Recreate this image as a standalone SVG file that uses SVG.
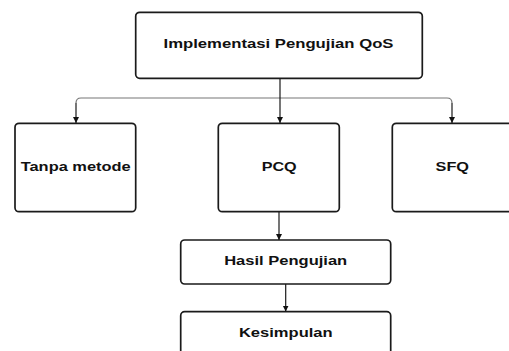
<svg xmlns="http://www.w3.org/2000/svg" width="509" height="351" viewBox="0 0 509 351">
<style>
.box{fill:#fff;stroke:#1a1a1a;stroke-width:1.7}
.lbl{font-family:"Liberation Sans",Arial,sans-serif;font-weight:bold;font-size:13.5px;fill:#111;text-anchor:middle;dominant-baseline:central}
.con{fill:none;stroke:#1a1a1a;stroke-width:1.2}
.hl{fill:none;stroke:#777;stroke-width:1.2}
</style>
<defs>
<marker id="arr" viewBox="0 0 10 10" refX="10" refY="5" markerWidth="6" markerHeight="7" markerUnits="userSpaceOnUse" orient="auto">
<path d="M0,0 L10,5 L0,10 Z" fill="#111"/>
</marker>
</defs>
<rect width="509" height="351" fill="#fff"/>
<g id="connectors">
<path class="hl" d="M280,98 H81 Q76,98 76,103"/>
<path class="hl" d="M280,98 H447 Q452,98 452,103"/>
<path class="con" d="M76,103 V123" marker-end="url(#arr)"/>
<path class="con" d="M452,103 V123" marker-end="url(#arr)"/>
<path class="con" d="M280,78.5 V123" marker-end="url(#arr)"/>
<path class="con" d="M279,212 V240" marker-end="url(#arr)"/>
<path class="con" d="M285.7,284 V311.5" marker-end="url(#arr)"/>
</g>
<g id="top">
<rect class="box" x="135.7" y="12.3" width="286.6" height="66" rx="4"/>
<text class="lbl" x="278.5" y="43.8" textLength="230" lengthAdjust="spacingAndGlyphs">Implementasi Pengujian QoS</text>
</g>
<g id="tanpa">
<rect class="box" x="15" y="123.3" width="120.7" height="88.4" rx="4"/>
<text class="lbl" x="75.7" y="166.5" textLength="110" lengthAdjust="spacingAndGlyphs">Tanpa metode</text>
</g>
<g id="pcq">
<rect class="box" x="218.3" y="123.3" width="121" height="88.4" rx="4"/>
<text class="lbl" x="279.2" y="166.5" textLength="35" lengthAdjust="spacingAndGlyphs">PCQ</text>
</g>
<g id="sfq">
<rect class="box" x="392.3" y="123.3" width="130" height="88.4" rx="4"/>
<text class="lbl" x="452.3" y="166.5" textLength="33.5" lengthAdjust="spacingAndGlyphs">SFQ</text>
</g>
<g id="hasil">
<rect class="box" x="180.7" y="240" width="210" height="44" rx="4"/>
<text class="lbl" x="285.7" y="260.8" textLength="123" lengthAdjust="spacingAndGlyphs">Hasil Pengujian</text>
</g>
<g id="kesimpulan">
<rect class="box" x="180.7" y="311.7" width="210" height="60" rx="4"/>
<text class="lbl" x="285.8" y="332.5" textLength="93.7" lengthAdjust="spacingAndGlyphs">Kesimpulan</text>
</g>
</svg>
